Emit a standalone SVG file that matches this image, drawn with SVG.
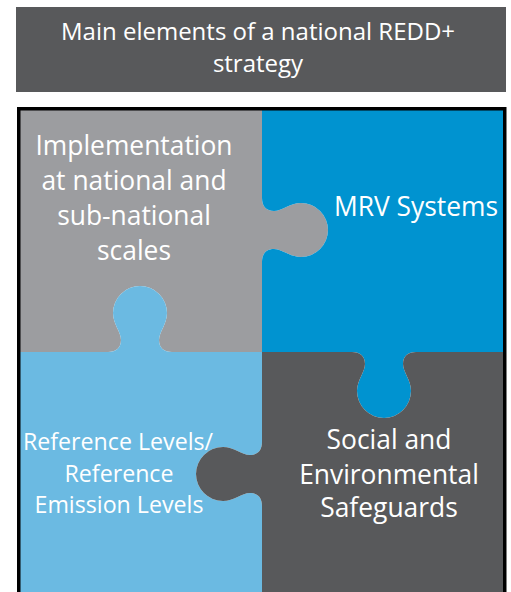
<svg xmlns="http://www.w3.org/2000/svg" width="511" height="592" viewBox="0 0 511 592">
<style>
.t{font-family:"Open Sans","Noto Sans","DejaVu Sans",sans-serif;fill:#ffffff;text-anchor:middle}
.lab{font-size:26.4px}
.sm{font-size:23.2px}
.ttl{font-size:24px}
</style>
<rect width="511" height="592" fill="#ffffff"/>
<g id="title">
<rect x="16" y="7" width="490" height="85" fill="#58595b"/>
<text class="t ttl" x="258" y="40">Main elements of a national REDD+</text>
<text class="t ttl" x="258" y="72">strategy</text>
</g>
<g id="implementation">
<path fill="#9c9da0" d="M20,110 L262,110 L262,198 C262,206 266,211 274,211 C282,211 290,203 301,203 A27,27 0 0 1 301,257 C290,257 282,249 274,249 C266,249 262,254 262,262 L262,352 L172,352 C164,352 159,348 159,340 C159,332 167,324 167,313 A27,27 0 0 0 113,313 C113,324 121,332 121,340 C121,348 116,352 108,352 L20,352 Z"/>
<text class="t lab" x="134" y="155">Implementation</text>
<text class="t lab" x="134" y="190">at national and</text>
<text class="t lab" x="134" y="225">sub-national</text>
<text class="t lab" x="134" y="260">scales</text>
</g>
<g id="mrv">
<path fill="#0093d0" d="M262,110 L504,110 L504,352 L416,352 C408,352 403,356 403,364 C403,372 411,380 411,391 A27,27 0 0 1 357,391 C357,380 365,372 365,364 C365,356 360,352 352,352 L262,352 L262,262 C262,254 266,249 274,249 C282,249 290,257 301,257 A27,27 0 0 0 301,203 C290,203 282,211 274,211 C266,211 262,206 262,198 Z"/>
<text class="t lab" x="416" y="216">MRV Systems</text>
</g>
<g id="reference">
<path fill="#6bbae2" d="M20,352 L108,352 C116,352 121,348 121,340 C121,332 113,324 113,313 A27,27 0 0 1 167,313 C167,324 159,332 159,340 C159,348 164,352 172,352 L262,352 L262,442 C262,450 258,455 250,455 C242,455 234,447 223,447 A27,27 0 0 0 223,501 C234,501 242,493 250,493 C258,493 262,498 262,506 L262,600 L20,600 Z"/>
<text class="t sm" x="118" y="450">Reference Levels/</text>
<text class="t sm" x="119" y="482">Reference</text>
<text class="t sm" x="119" y="513">Emission Levels</text>
</g>
<g id="safeguards">
<path fill="#58595b" d="M262,352 L352,352 C360,352 365,356 365,364 C365,372 357,380 357,391 A27,27 0 0 0 411,391 C411,380 403,372 403,364 C403,356 408,352 416,352 L504,352 L504,600 L262,600 L262,506 C262,498 258,493 250,493 C242,493 234,501 223,501 A27,27 0 0 1 223,447 C234,447 242,455 250,455 C258,455 262,450 262,442 Z"/>
<text class="t lab" x="389" y="449">Social and</text>
<text class="t lab" x="389" y="484">Environmental</text>
<text class="t lab" x="389" y="517">Safeguards</text>
</g>
<g id="connectors"></g>
<rect x="18.75" y="108.75" width="486" height="500" fill="none" stroke="#000000" stroke-width="3.5"/>
</svg>
